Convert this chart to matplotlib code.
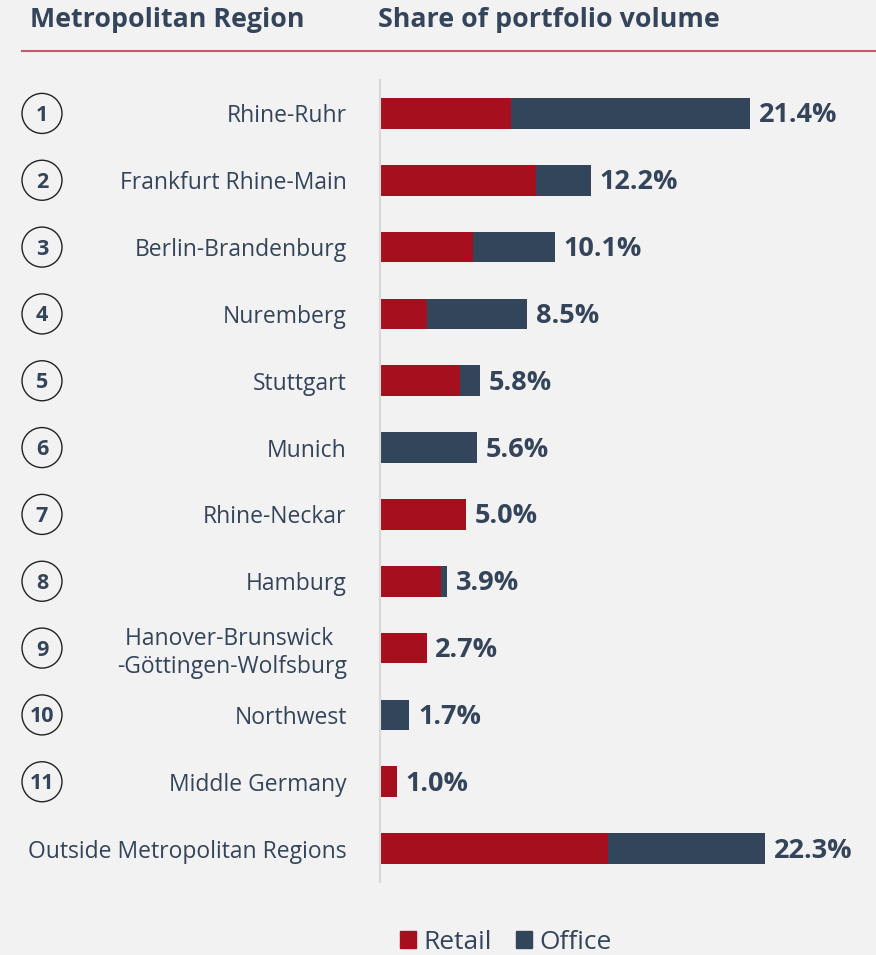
import matplotlib.pyplot as plt
from matplotlib.patches import Ellipse, Patch
from matplotlib.transforms import blended_transform_factory

plt.rcParams['font.family'] = ['Open Sans', 'DejaVu Sans']

regions = ["Rhine-Ruhr", "Frankfurt Rhine-Main", "Berlin-Brandenburg", "Nuremberg",
           "Stuttgart", "Munich", "Rhine-Neckar", "Hamburg",
           "Hanover-Brunswick \n-Göttingen-Wolfsburg", "Northwest", "Middle Germany",
           "Outside Metropolitan Regions"]
ranks = ["1", "2", "3", "4", "5", "6", "7", "8", "9", "10", "11", ""]
retail = [7.6, 9.0, 5.4, 2.7, 4.6, 0.0, 5.0, 3.5, 2.7, 0.0, 1.0, 13.2]
office = [13.8, 3.2, 4.7, 5.8, 1.2, 5.6, 0.0, 0.4, 0.0, 1.7, 0.0, 9.1]
totals = [21.4, 12.2, 10.1, 8.5, 5.8, 5.6, 5.0, 3.9, 2.7, 1.7, 1.0, 22.3]

bg = "#F2F2F2"
red = "#A50F1E"
navy = "#33455B"
txt = "#34445A"

fig = plt.figure(figsize=(8.76, 9.55), dpi=100, facecolor=bg)
ax = fig.add_axes([380 / 876, 1 - 882 / 955, 484 / 876, 802 / 955])
ax.set_facecolor(bg)

y = list(range(len(regions)))
ax.barh(y, retail, height=0.46, color=red, label="Retail")
ax.barh(y, office, left=retail, height=0.46, color=navy, label="Office")

for i, t in enumerate(totals):
    ax.text(t + 0.5, i + 0.03, f"{t:.1f}%", va="center", ha="left",
            fontsize=19.5, fontweight="bold", color=txt)

ax.set_xlim(0, 28)
ax.set_ylim(11.5, -0.5)
ax.set_xticks([])
ax.set_yticks(y)
ax.set_yticklabels(regions, fontsize=16.5, color=txt)
for lab in ax.get_yticklabels():
    lab.set_multialignment("center")
ax.tick_params(axis="y", length=0, pad=24)
for s in ["top", "right", "bottom"]:
    ax.spines[s].set_visible(False)
ax.spines["left"].set_color("#D9D9D9")
ax.spines["left"].set_linewidth(1.5)

# numbered circles on the left
tr = blended_transform_factory(fig.transFigure, ax.transData)
for i, r in enumerate(ranks):
    if not r:
        continue
    ax.add_patch(Ellipse((42 / 876, i), 40 / 876, 40 / 66.8, transform=tr,
                         facecolor="none", edgecolor="#222222", lw=1, clip_on=False))
    ax.text(42 / 876, i + 0.03, r, transform=tr, ha="center", va="center",
            fontsize=15.5, fontweight="bold", color=txt)

# header
fig.text(30 / 876, 1 - 20 / 955, "Metropolitan Region", fontsize=19.3,
         fontweight="bold", color=txt, va="center")
fig.text(378 / 876, 1 - 20 / 955, "Share of portfolio volume", fontsize=19.3,
         fontweight="bold", color=txt, va="center")
fig.add_artist(plt.Line2D([22 / 876, 1], [1 - 51 / 955, 1 - 51 / 955],
                          color="#C55A64", lw=1.5))

handles = [Patch(color=red, label="Retail"), Patch(color=navy, label="Office")]
fig.legend(handles=handles, loc="center", bbox_to_anchor=(506 / 876, 1 - 942 / 955),
           ncol=2, frameon=False, fontsize=19, handlelength=0.6, handleheight=0.6,
           handletextpad=0.3, columnspacing=0.9, labelcolor=txt)

fig.savefig("out.png", dpi=100, facecolor=bg)
